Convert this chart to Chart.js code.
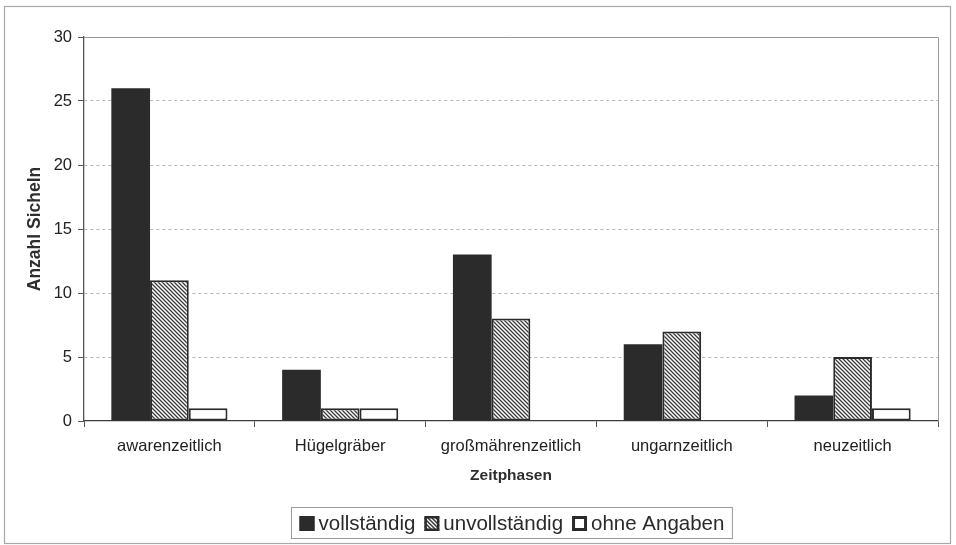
<!DOCTYPE html>
<html>
<head>
<meta charset="utf-8">
<script src="https://cdn.jsdelivr.net/npm/chart.js@4/dist/chart.umd.min.js"></script>
<style>
  html, body { margin: 0; padding: 0; background: #fff; }
  #wrap { width: 956px; height: 545px; position: relative; }
</style>
</head>
<body>
<div id="wrap"><canvas id="chart" width="956" height="545"></canvas></div>
<script>
// Sicheln nach Zeitphasen und Erhaltungszustand
const categories = ['awarenzeitlich', 'Hügelgräber', 'großmährenzeitlich', 'ungarnzeitlich', 'neuzeitlich'];
const vollstaendig = [26, 4, 13, 6, 2];
const unvollstaendig = [11, 1, 8, 7, 5];
const ohneAngaben = [1, 1, 0, 0, 1];
const seriesNames = ['vollständig', 'unvollständig', 'ohne Angaben'];
const yTickValues = [0, 5, 10, 15, 20, 25, 30];

const FONT = '"Liberation Sans", Arial, Helvetica, sans-serif';
const INK = '#2b2b2b';

// diagonal hatch used for the "unvollständig" series
function makeHatch(bg, fg) {
  const s = 4;
  const c = document.createElement('canvas');
  c.width = s; c.height = s;
  const g = c.getContext('2d');
  g.fillStyle = bg;
  g.fillRect(0, 0, s, s);
  g.strokeStyle = fg;
  g.lineWidth = 1.3;
  g.beginPath();
  g.moveTo(-1, -1); g.lineTo(s + 1, s + 1);
  g.moveTo(-1, s - 1); g.lineTo(1, s + 1);
  g.moveTo(s - 1, -1); g.lineTo(s + 1, 1);
  g.stroke();
  return g.createPattern(c, 'repeat');
}
const ctx = document.getElementById('chart').getContext('2d');
const hatch = makeHatch('#ffffff', '#3a3a3a');

const outlined = (c) => (c.raw === 0 ? 0 : 2);

// background, outer frame, plot border and boxed legend
const decor = {
  id: 'decor',
  beforeDraw(chart) {
    const g = chart.ctx;
    g.save();
    g.fillStyle = '#fff';
    g.fillRect(0, 0, chart.width, chart.height);
    g.strokeStyle = '#a8a8a8';
    g.lineWidth = 1.2;
    g.strokeRect(4.5, 6.5, 946, 537);
    g.restore();
  },
  beforeDatasetsDraw(chart) {
    const g = chart.ctx;
    const a = chart.chartArea;
    g.save();
    g.strokeStyle = '#9a9a9a';
    g.lineWidth = 1;
    g.beginPath();
    g.moveTo(a.left, Math.round(a.top) + 0.5);
    g.lineTo(Math.round(a.right) + 0.5, Math.round(a.top) + 0.5);
    g.lineTo(Math.round(a.right) + 0.5, a.bottom);
    g.stroke();
    g.restore();
  },
  afterDraw(chart) {
    const g = chart.ctx;
    g.save();
    g.font = '20.5px ' + FONT;
    const sq = 15, gapText = 4, gapItem = 9, padX = 8;
    const widths = chart.data.datasets.map(d => g.measureText(d.label).width);
    const total = widths.reduce((s, w) => s + w, 0) + chart.data.datasets.length * (sq + gapText) + gapItem * (chart.data.datasets.length - 1);
    const boxW = total + 2 * padX;
    const cx = 511;
    const boxX = Math.round(cx - boxW / 2) + 0.5;
    const boxY = 507.5, boxH = 31;
    g.strokeStyle = '#9a9a9a';
    g.lineWidth = 1;
    g.strokeRect(boxX, boxY, boxW, boxH);
    let x = boxX + padX;
    const cy = boxY + boxH / 2 + 0.5;
    chart.data.datasets.forEach((d, i) => {
      const y0 = cy - sq / 2;
      g.fillStyle = d.legendFill;
      g.fillRect(x, y0, sq, sq);
      g.strokeStyle = INK;
      g.lineWidth = d.legendBorder;
      g.strokeRect(x + d.legendBorder / 2, y0 + d.legendBorder / 2, sq - d.legendBorder, sq - d.legendBorder);
      g.fillStyle = '#2a2a2a';
      g.textBaseline = 'middle';
      g.textAlign = 'left';
      g.fillText(d.label, x + sq + gapText, cy + 1);
      x += sq + gapText + widths[i] + gapItem;
    });
    g.restore();
  }
};

new Chart(ctx, {
  type: 'bar',
  data: {
    labels: categories,
    datasets: [
      {
        label: seriesNames[0],
        data: vollstaendig,
        backgroundColor: INK,
        borderColor: INK,
        borderWidth: 0,
        legendFill: INK,
        legendBorder: 1
      },
      {
        label: seriesNames[1],
        data: unvollstaendig,
        backgroundColor: hatch,
        borderColor: INK,
        borderWidth: outlined,
        legendFill: makeHatch('#3a3a3a', '#ffffff'),
        legendBorder: 2.5
      },
      {
        label: seriesNames[2],
        data: ohneAngaben,
        backgroundColor: '#ffffff',
        borderColor: INK,
        borderWidth: outlined,
        legendFill: '#ffffff',
        legendBorder: 3
      }
    ]
  },
  options: {
    responsive: false,
    animation: false,
    devicePixelRatio: 1,
    layout: { padding: { left: 25, top: 37, right: 18, bottom: 60 } },
    datasets: {
      bar: {
        categoryPercentage: 0.68,
        barPercentage: 1,
        borderSkipped: false
      }
    },
    plugins: {
      legend: { display: false },
      tooltip: { enabled: false }
    },
    scales: {
      x: {
        afterFit(scale) { scale.height = 64; },
        grid: {
          offset: true,
          drawOnChartArea: false,
          drawTicks: true,
          tickLength: 6,
          tickColor: '#555',
          tickWidth: 1
        },
        border: { display: true, color: '#3c3c3c', width: 1.3 },
        ticks: {
          color: '#222',
          font: { family: FONT, size: 16.5 },
          padding: 10,
          maxRotation: 0,
          autoSkip: false
        },
        title: {
          display: true,
          text: 'Zeitphasen',
          color: '#2e2e2e',
          font: { family: FONT, size: 15.5, weight: 'bold' },
          padding: 0
        }
      },
      y: {
        min: 0,
        max: 30,
        afterFit(scale) { scale.width = 59; },
        afterBuildTicks(scale) { scale.ticks = yTickValues.map(v => ({ value: v })); },
        grid: {
          drawOnChartArea: true,
          color: (c) => (c.tick && (c.tick.value === 0 || c.tick.value === 30) ? 'rgba(0,0,0,0)' : '#b8b8b8'),
          lineWidth: 1,
          tickLength: 6,
          tickColor: '#555',
          tickBorderDash: [],
          tickWidth: 1
        },
        border: { display: true, color: '#555', width: 1.3, dash: [3, 3] },
        ticks: {
          color: '#222',
          font: { family: FONT, size: 16.5 },
          padding: 6
        },
        title: {
          display: true,
          text: 'Anzahl Sicheln',
          color: '#2e2e2e',
          font: { family: FONT, size: 17.5, weight: 'bold' },
          padding: 0
        }
      }
    }
  },
  plugins: [decor]
});
</script>
</body>
</html>
